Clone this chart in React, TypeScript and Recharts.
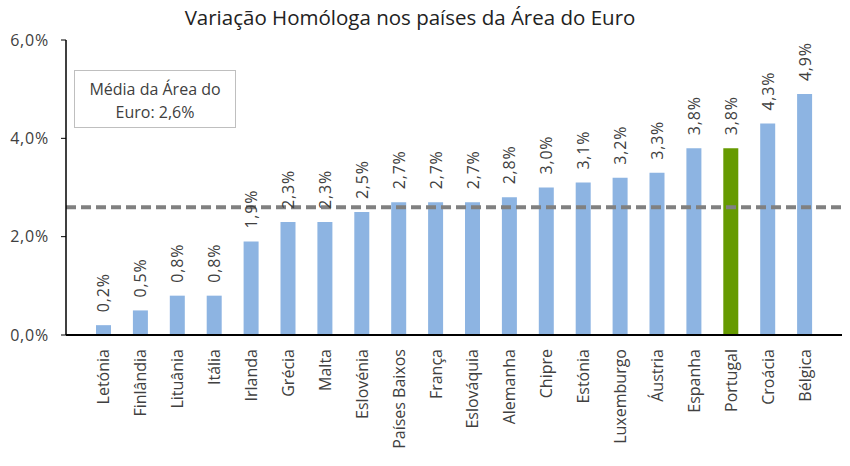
import { BarChart, Bar, XAxis, YAxis, ReferenceLine, Cell, LabelList } from 'recharts';

const countries = [
  'Letónia', 'Finlândia', 'Lituânia', 'Itália', 'Irlanda', 'Grécia', 'Malta', 'Eslovénia',
  'Países Baixos', 'França', 'Eslováquia', 'Alemanha', 'Chipre', 'Estónia', 'Luxemburgo',
  'Áustria', 'Espanha', 'Portugal', 'Croácia', 'Bélgica',
];
const values = [0.2, 0.5, 0.8, 0.8, 1.9, 2.3, 2.3, 2.5, 2.7, 2.7, 2.7, 2.8, 3.0, 3.1, 3.2, 3.3, 3.8, 3.8, 4.3, 4.9];
const euroAverage = 2.6;
const yTicks = [0, 2, 4, 6];
const highlight = 'Portugal';

const title = 'Variação Homóloga nos países da Área do Euro';
const boxLines = ['Média da Área do', 'Euro: 2,6%'];

const data = countries.map((name, i) => ({ name, value: values[i] }));

const FONT = '"Open Sans", sans-serif';
const TEXT = '#404040';
const fmt = (v: number) => `${v.toFixed(1).replace('.', ',')}%`;

function XTick(props: any) {
  const { x, y, payload } = props;
  return (
    <text
      x={x}
      y={y}
      transform={`rotate(-90, ${x}, ${y})`}
      textAnchor="end"
      dominantBaseline="central"
      fill={TEXT}
      fontSize={16}
      fontFamily={FONT}
    >
      {payload.value}
    </text>
  );
}

function ValueLabel(props: any) {
  const { x, y, width, value } = props;
  const cx = x + width / 2;
  const ty = y - 13;
  return (
    <text
      x={cx}
      y={ty}
      transform={`rotate(-90, ${cx}, ${ty})`}
      textAnchor="start"
      dominantBaseline="central"
      fill={TEXT}
      fontSize={16}
      letterSpacing={0.8}
      fontFamily={FONT}
    >
      {fmt(value)}
    </text>
  );
}

export default function App() {
  return (
    <div style={{ position: 'absolute', left: 0, top: 0, width: 850, height: 466, background: '#fff' }}>
      <BarChart width={850} height={466} data={data} margin={{ top: 40, right: 8, left: 0, bottom: 0 }}>
        <XAxis
          dataKey="name"
          interval={0}
          height={131}
          padding={{ left: 19, right: 19 }}
          axisLine={{ stroke: '#000', strokeWidth: 2 }}
          tickLine={false}
          tickSize={0}
          tickMargin={14}
          tick={<XTick />}
        />
        <YAxis
          width={66}
          domain={[0, 6]}
          ticks={yTicks}
          tickFormatter={fmt}
          axisLine={{ stroke: '#000', strokeWidth: 1.5 }}
          tickLine={{ stroke: '#000' }}
          tickSize={5}
          tickMargin={12}
          tick={{ fill: TEXT, fontSize: 16, fontFamily: FONT, letterSpacing: 0.8 }}
        />
        <Bar dataKey="value" barSize={15} isAnimationActive={false}>
          {data.map((d) => (
            <Cell key={d.name} fill={d.name === highlight ? '#669A00' : '#8DB4E2'} />
          ))}
          <LabelList dataKey="value" content={<ValueLabel />} />
        </Bar>
        <ReferenceLine y={euroAverage} stroke="#808080" strokeWidth={4} strokeDasharray="10 5" />
      </BarChart>
      <svg width={850} height={466} style={{ position: 'absolute', left: 0, top: 0, pointerEvents: 'none' }}>
        <text x={410} y={25} textAnchor="middle" fill="#222" fontSize={20.5} fontFamily={FONT}>
          {title}
        </text>
        <rect x={74.5} y={70.5} width={161} height={57} fill="#fff" stroke="#BFBFBF" />
        {boxLines.map((line, i) => (
          <text key={line} x={155} y={95 + i * 23} textAnchor="middle" fill={TEXT} fontSize={16} fontFamily={FONT}>
            {line}
          </text>
        ))}
      </svg>
    </div>
  );
}
